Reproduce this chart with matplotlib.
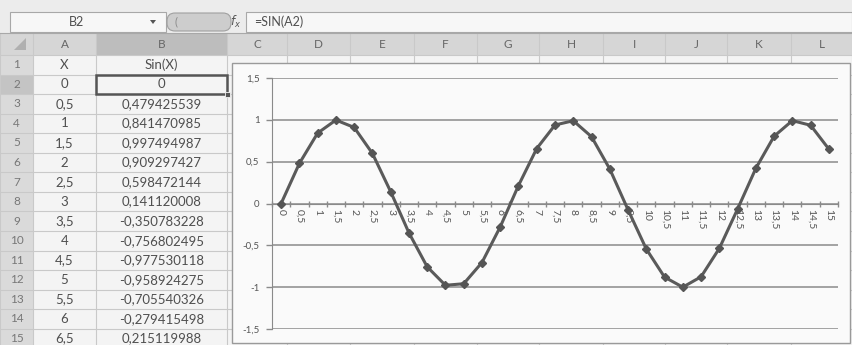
import matplotlib

matplotlib.use("Agg")
import matplotlib.pyplot as plt
from matplotlib.patches import Rectangle, FancyBboxPatch, Polygon

plt.rcParams["font.family"] = ["Lato", "DejaVu Sans"]

# chart data: Sin(X) for X = 0 .. 15 step 0,5
x_values = [0, 0.5, 1, 1.5, 2, 2.5, 3, 3.5, 4, 4.5, 5, 5.5, 6, 6.5, 7, 7.5,
            8, 8.5, 9, 9.5, 10, 10.5, 11, 11.5, 12, 12.5, 13, 13.5, 14, 14.5, 15]
sin_values = [0, 0.479426, 0.841471, 0.997495, 0.909297, 0.598472, 0.141120,
              -0.350783, -0.756802, -0.977530, -0.958924, -0.705540, -0.279415,
              0.215120, 0.656987, 0.938000, 0.989358, 0.798487, 0.412118,
              -0.075151, -0.544021, -0.879696, -0.999990, -0.875680, -0.536573,
              -0.066322, 0.420167, 0.803784, 0.990607, 0.934895, 0.650288]
x_labels = ["0", "0,5", "1", "1,5", "2", "2,5", "3", "3,5", "4", "4,5", "5",
            "5,5", "6", "6,5", "7", "7,5", "8", "8,5", "9", "9,5", "10", "10,5",
            "11", "11,5", "12", "12,5", "13", "13,5", "14", "14,5", "15"]
y_ticks = [-1.5, -1, -0.5, 0, 0.5, 1, 1.5]
y_labels = ["-1,5", "-1", "-0,5", "0", "0,5", "1", "1,5"]

# visible part of the worksheet
col_letters = ["A", "B", "C", "D", "E", "F", "G", "H", "I", "J", "K", "L"]
table_x = ["0", "0,5", "1", "1,5", "2", "2,5", "3", "3,5", "4", "4,5", "5",
           "5,5", "6", "6,5"]
table_sin = ["0", "0,479425539", "0,841470985", "0,997494987", "0,909297427",
             "0,598472144", "0,141120008", "-0,350783228", "-0,756802495",
             "-0,977530118", "-0,958924275", "-0,705540326", "-0,279415498",
             "0,215119988"]

W, H = 852, 345
col_edges = [0, 33, 96, 227, 287, 350, 414, 477, 539, 603, 665, 727, 791, 852]
ROW0, ROWH = 55, 19.55
TXT = "#4f4f4f"
GRID = "#c9c9c9"

fig = plt.figure(figsize=(W / 100, H / 100), dpi=100)
fig.patch.set_facecolor("#f4f4f4")
bg = fig.add_axes([0, 0, 1, 1])
bg.set_xlim(0, W)
bg.set_ylim(H, 0)
bg.axis("off")

# formula bar
bg.add_patch(Rectangle((0, 0), W, 33, fc="#ececec", ec="none"))
bg.add_patch(Rectangle((10, 12), 156, 20, fc="#f7f7f7", ec="#a8a8a8", lw=0.8))
bg.text(77, 22, "B2", ha="center", va="center", fontsize=9, color=TXT)
bg.add_patch(Polygon([(150, 20), (156, 20), (153, 24)], closed=True, fc="#555555"))
bg.add_patch(FancyBboxPatch((168, 14), 62, 16, boxstyle="round,pad=1,rounding_size=8",
                            fc="#cdcdcd", ec="#a0a0a0", lw=0.8))
bg.text(176, 22, "(", ha="center", va="center", fontsize=8, color="#8a8a8a")
bg.text(236, 22, "$f_x$", ha="center", va="center", fontsize=8.5, color="#555555")
bg.add_patch(Rectangle((246, 12), W - 246, 20, fc="#f7f7f7", ec="#a8a8a8", lw=0.8))
bg.text(254, 22, "=SIN(A2)", ha="left", va="center", fontsize=9, color=TXT)

# column headers
bg.add_patch(Rectangle((0, 33), W, ROW0 - 33, fc="#d6d6d6", ec="none"))
bg.add_patch(Rectangle((col_edges[2], 33), col_edges[3] - col_edges[2], ROW0 - 33,
                       fc="#bdbdbd", ec="none"))
bg.add_patch(Polygon([(26, 38), (26, 50), (14, 50)], closed=True, fc="#b0b0b0"))
for i, letter in enumerate(col_letters):
    cx = (col_edges[i + 1] + col_edges[i + 2]) / 2
    bg.text(cx, 44, letter, ha="center", va="center", fontsize=8.5, color="#666666")

# row headers and cell grid
bg.add_patch(Rectangle((0, ROW0), col_edges[1], H - ROW0, fc="#dadada", ec="none"))
bg.add_patch(Rectangle((0, ROW0 + ROWH), col_edges[1], ROWH, fc="#c4c4c4", ec="none"))
for r in range(16):
    y = ROW0 + r * ROWH
    bg.plot([0, W], [y, y], color=GRID, lw=0.8)
for xe in col_edges:
    bg.plot([xe, xe], [33, H], color=GRID, lw=0.8)
bg.plot([0, W], [33, 33], color="#a8a8a8", lw=0.8)

for r in range(15):
    cy = ROW0 + (r + 0.5) * ROWH
    bg.text(col_edges[1] / 2, cy, str(r + 1), ha="center", va="center",
            fontsize=8.5, color="#777777")
cy1 = ROW0 + 0.5 * ROWH
bg.text((col_edges[1] + col_edges[2]) / 2, cy1, "X", ha="center", va="center",
        fontsize=9.5, color=TXT)
bg.text((col_edges[2] + col_edges[3]) / 2, cy1, "Sin(X)", ha="center", va="center",
        fontsize=9.5, color=TXT)
for r, (xv, sv) in enumerate(zip(table_x, table_sin)):
    cy = ROW0 + (r + 1.5) * ROWH
    bg.text((col_edges[1] + col_edges[2]) / 2, cy, xv, ha="center", va="center",
            fontsize=9.5, color=TXT)
    bg.text((col_edges[2] + col_edges[3]) / 2, cy, sv, ha="center", va="center",
            fontsize=9.5, color=TXT)

# active cell B2
bg.add_patch(Rectangle((col_edges[2], ROW0 + ROWH), col_edges[3] - col_edges[2], ROWH,
                       fc="none", ec="#555555", lw=1.8, zorder=5))
bg.add_patch(Rectangle((col_edges[3] - 2.5, ROW0 + 2 * ROWH - 2.5), 5, 5,
                       fc="#555555", ec="#f4f4f4", lw=0.6, zorder=6))

# chart area
bg.add_patch(Rectangle((232, 63), 618, 280, fc="#fafafa", ec="#9a9a9a", lw=1.0, zorder=7))

# plot area
ax = fig.add_axes([272 / W, (H - 329) / H, 566 / W, 251 / H])
ax.set_facecolor("none")
ax.plot(x_values, sin_values, color="#5a5a5a", lw=2.2, marker="D", markersize=4.5,
        markerfacecolor="#555555", markeredgecolor="#555555", zorder=3)
ax.set_xlim(-0.25, 15.25)
ax.set_ylim(-1.5, 1.5)

for yv in y_ticks:
    ax.axhline(yv, color="#8a8a8a", lw=1.1, zorder=1)

ax.set_yticks(y_ticks)
ax.set_yticklabels(y_labels)
ax.tick_params(axis="y", length=4, width=1.0, color="#8a8a8a", pad=5,
               labelsize=7, labelcolor="#555555")

ax.set_xticks(x_values)
ax.set_xticks([v - 0.25 for v in x_values] + [15.25], minor=True)
ax.set_xticklabels(x_labels)
ax.tick_params(axis="x", which="major", length=0, pad=4, labelsize=7.5,
               labelcolor="#555555", labelrotation=270)
ax.tick_params(axis="x", which="minor", length=5, width=1.0, direction="inout",
               color="#8a8a8a")
for lab in ax.get_xticklabels():
    lab.set_verticalalignment("top")
    lab.set_horizontalalignment("center")

ax.spines["bottom"].set_position(("data", 0))
ax.spines["bottom"].set_color("#8a8a8a")
ax.spines["left"].set_color("#8a8a8a")
ax.spines["top"].set_visible(False)
ax.spines["right"].set_visible(False)

fig.savefig("out.png", dpi=100, facecolor=fig.get_facecolor())
